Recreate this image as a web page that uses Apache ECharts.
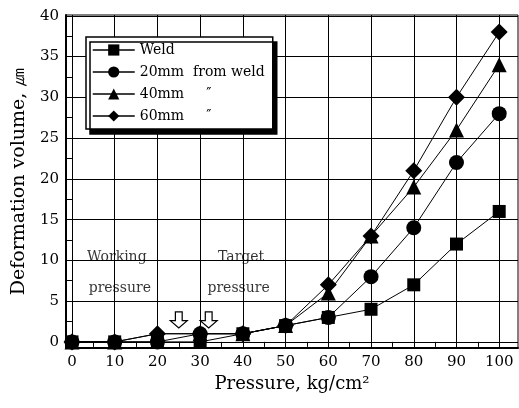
<!DOCTYPE html>
<html><head><meta charset="utf-8">
<script src="https://cdn.jsdelivr.net/npm/echarts@6/dist/echarts.min.js"></script>
<style>html,body{margin:0;padding:0;background:#fff}#c{width:519px;height:408px}</style>
</head><body><div id="c"></div>
<script>
const pressure = [0, 10, 20, 30, 40, 50, 60, 70, 80, 90, 100];
const weld   = [0, 0, 0, 0, 1, 2, 3, 4, 7, 12, 16];
const mm20   = [0, 0, 0, 1, 1, 2, 3, 8, 14, 22, 28];
const mm40   = [0, 0, 1, 1, 1, 2, 6, 13, 19, 26, 34];
const mm60   = [0, 0, 1, 1, 1, 2, 7, 13, 21, 30, 38];
const seriesNames = ['Weld', '20mm  from weld', '40mm     \u2033', '60mm     \u2033'];
const xTickLabels = [0, 10, 20, 30, 40, 50, 60, 70, 80, 90, 100];
const yTickLabels = [0, 5, 10, 15, 20, 25, 30, 35, 40];
const xMinorTicks = [0,5,10,15,20,25,30,35,40,45,50,55,60,65,70,75,80,85,90,95,100];
const yMinorTicks = [0,2.5,5,7.5,10,12.5,15,17.5,20,22.5,25,27.5,30,32.5,35,37.5,40];
const annotations = [[10.5, 10.4, 'Working'], [11.2, 6.6, 'pressure'], [39.6, 10.4, 'Target'], [39, 6.6, 'pressure']];
const arrows = [[25, 2.7], [32, 2.7]];

const font = 'DejaVu Serif';
const pair = (ys) => pressure.map((x, i) => [x, ys[i]]);
const symbols = ['rect', 'circle', 'triangle', 'diamond'];
const sizes = [13, 15, 15, 17];
const vals = [weld, mm20, mm40, mm60];

const series = vals.map((ys, k) => ({
  name: seriesNames[k], type: 'line', data: pair(ys),
  symbol: symbols[k], symbolSize: sizes[k],
  itemStyle: { color: '#000' }, lineStyle: { color: '#000', width: 1 },
  z: 3
}));
series[0].markPoint = {
  symbol: 'path://M3,0 L7,0 L7,6 L10,6 L5,11 L0,6 L3,6 Z',
  symbolSize: [17, 16], symbolKeepAspect: false,
  itemStyle: { color: '#fff', borderColor: '#000', borderWidth: 1.2 },
  label: { show: false },
  data: arrows.map(a => ({ coord: a }))
};
series.push({
  type: 'scatter', data: annotations, symbolSize: 0, silent: true,
  label: { show: true, position: 'inside', formatter: p => p.value[2],
    fontFamily: font, fontSize: 14, color: '#000' },
  z: 4
});

const chart = echarts.init(document.getElementById('c'));
chart.setOption({
  animation: false,
  backgroundColor: '#fff',
  grid: { left: 66, right: 1, top: 15, bottom: 60, show: true, borderColor: '#000', borderWidth: 1 },
  legend: {
    data: seriesNames, orient: 'vertical', left: 86, top: 37,
    itemWidth: 42, itemHeight: 14, itemGap: 8,
    backgroundColor: '#fff', borderColor: '#000', borderWidth: 1.5, borderRadius: 0,
    padding: [6, 8, 6, 6],
    shadowColor: '#000', shadowBlur: 0, shadowOffsetX: 4, shadowOffsetY: 5,
    textStyle: { fontFamily: font, fontSize: 14, color: '#000' },
    itemStyle: { color: '#000' }, lineStyle: { color: '#000', width: 1.5 }
  },
  xAxis: [{
    type: 'value', min: -1.4, max: 104.4, position: 'bottom',
    name: 'Pressure, kg/cm\u00b2', nameLocation: 'middle', nameGap: 20,
    nameTextStyle: { fontFamily: font, fontSize: 18, color: '#000', verticalAlign: 'top' },
    axisLine: { show: true, onZero: false, lineStyle: { color: '#000', width: 2 } },
    axisTick: { show: true, inside: true, length: 5, customValues: xTickLabels, lineStyle: { color: '#000' } },
    axisLabel: { customValues: xTickLabels, fontFamily: font, fontSize: 15, color: '#000', margin: 7 },
    splitLine: { show: true, lineStyle: { color: '#000', width: 1 } }
  }, {
    type: 'value', min: -1.4, max: 104.4, position: 'top',
    axisLine: { show: false },
    axisTick: { show: true, inside: true, length: 5, customValues: xMinorTicks, lineStyle: { color: '#000' } },
    axisLabel: { show: false }, splitLine: { show: false }
  }],
  yAxis: [{
    type: 'value', min: -0.75, max: 40.1,
    name: 'Deformation volume, \u339b', nameLocation: 'middle', nameGap: 35,
    nameTextStyle: { fontFamily: font, fontSize: 19, color: '#000' },
    axisLine: { show: true, onZero: false, lineStyle: { color: '#000', width: 2 } },
    axisTick: { show: true, inside: true, length: 5, customValues: yTickLabels, lineStyle: { color: '#000' } },
    axisLabel: { customValues: yTickLabels, fontFamily: font, fontSize: 15, color: '#000', margin: 7 },
    splitLine: { show: true, lineStyle: { color: '#000', width: 1 } }
  }, {
    type: 'value', min: -0.75, max: 40.1, position: 'right',
    axisLine: { show: false },
    axisTick: { show: true, inside: true, length: 5, customValues: yMinorTicks, lineStyle: { color: '#000' } },
    axisLabel: { show: false }, splitLine: { show: false }
  }],
  series: series
});
</script></body></html>
